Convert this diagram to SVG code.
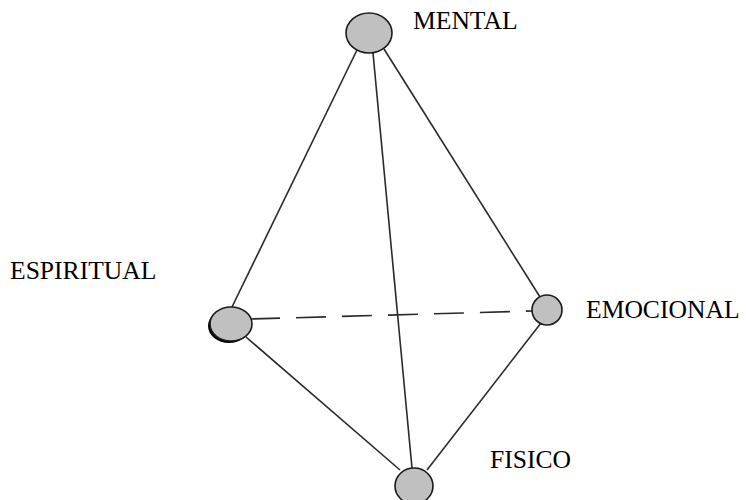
<svg xmlns="http://www.w3.org/2000/svg" width="746" height="500" viewBox="0 0 746 500">
<style>
.edge{stroke:#2a2a2a;stroke-width:1.6;fill:none}
.dash{stroke-dasharray:30 16}
.node{fill:#c0c0c0;stroke:#1a1a1a;stroke-width:1.6}
.lbl{font-family:"Liberation Serif","Times New Roman",serif;font-size:25.6px;fill:#000}
</style>
<rect width="746" height="500" fill="#fff"/>
<g id="connectors">
<line class="edge" x1="357" y1="50" x2="232" y2="307"/>
<line class="edge" x1="384" y1="49" x2="540" y2="297"/>
<line class="edge" x1="373" y1="53" x2="412" y2="468"/>
<line class="edge dash" x1="250" y1="319" x2="532" y2="311"/>
<line class="edge" x1="246" y1="337" x2="400" y2="470"/>
<line class="edge" x1="541" y1="323" x2="427" y2="470"/>
</g>
<g id="mental">
<ellipse class="node" cx="369" cy="33" rx="23" ry="20"/>
<text class="lbl" x="413" y="29">MENTAL</text>
</g>
<g id="espiritual">
<ellipse cx="229" cy="326" rx="21" ry="17" fill="#000"/>
<ellipse class="node" cx="231" cy="324" rx="21" ry="17"/>
<text class="lbl" x="10" y="279">ESPIRITUAL</text>
</g>
<g id="emocional">
<ellipse class="node" cx="547" cy="310" rx="15" ry="15"/>
<text class="lbl" x="586" y="318">EMOCIONAL</text>
</g>
<g id="fisico">
<ellipse class="node" cx="414" cy="486" rx="19" ry="18"/>
<text class="lbl" x="490" y="468">FISICO</text>
</g>
</svg>
